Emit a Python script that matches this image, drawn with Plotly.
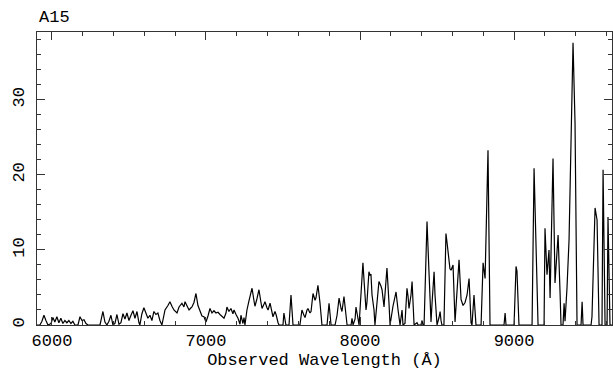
import plotly.graph_objects as go

wavelength = [
    5903, 5922, 5935, 5948, 5961, 5974, 5994, 6006, 6019, 6032, 6045, 6058, 6071, 6084, 6097, 6110,
    6123, 6136, 6149, 6169, 6182, 6195, 6208, 6221, 6234, 6312, 6331, 6344, 6357, 6370, 6383, 6396,
    6409, 6422, 6435, 6448, 6461, 6474, 6487, 6500, 6513, 6526, 6539, 6552, 6565, 6571, 6584, 6597,
    6610, 6623, 6636, 6649, 6662, 6675, 6688, 6701, 6714, 6734, 6753, 6766, 6779, 6792, 6812, 6825,
    6844, 6857, 6864, 6877, 6890, 6903, 6909, 6922, 6935, 6948, 6961, 6974, 6987, 7000, 7013, 7026,
    7039, 7052, 7065, 7078, 7091, 7104, 7117, 7130, 7136, 7149, 7162, 7175, 7182, 7195, 7208, 7221,
    7227, 7240, 7247, 7253, 7266, 7279, 7292, 7299, 7312, 7318, 7331, 7344, 7357, 7364, 7377, 7383,
    7396, 7403, 7416, 7429, 7435, 7448, 7455, 7468, 7474, 7500, 7506, 7519, 7539, 7552, 7565, 7610,
    7623, 7636, 7643, 7656, 7662, 7675, 7682, 7695, 7708, 7714, 7727, 7740, 7753, 7786, 7799, 7812,
    7838, 7851, 7864, 7877, 7883, 7896, 7909, 7916, 7942, 7948, 7955, 7968, 7974, 7987, 7994, 8006,
    8019, 8026, 8039, 8045, 8058, 8065, 8071, 8078, 8091, 8097, 8110, 8123, 8136, 8143, 8156, 8175,
    8188, 8195, 8214, 8221, 8234, 8247, 8260, 8273, 8279, 8292, 8305, 8312, 8318, 8331, 8338, 8351,
    8370, 8377, 8396, 8403, 8409, 8416, 8435, 8448, 8461, 8468, 8481, 8487, 8500, 8513, 8520, 8526,
    8532, 8545, 8558, 8565, 8578, 8584, 8591, 8604, 8617, 8630, 8643, 8656, 8669, 8682, 8695, 8708,
    8721, 8727, 8740, 8753, 8786, 8799, 8812, 8831, 8844, 8935, 8942, 8948, 9000, 9013, 9019, 9032,
    9117, 9130, 9136, 9156, 9195, 9201, 9214, 9227, 9234, 9253, 9266, 9286, 9299, 9305, 9318, 9325,
    9331, 9344, 9357, 9383, 9396, 9409, 9435, 9442, 9448, 9500, 9506, 9513, 9526, 9539, 9552, 9571,
    9578, 9591, 9604, 9610, 9623, 9636,
]

flux = [
    0, 0, 0.5, 1.3, 0.6, 0, 0.2, 1.0, 0.4, 1.1, 0.3, 0.9, 0.2, 0.6, 0.3, 0.6,
    0.2, 0.5, 0, 0, 1.1, 0.6, 0.7, 0.2, 0, 0, 1.8, 0.4, 0, 0.5, 1.3, 0,
    0.2, 1.4, 0.1, 0.3, 1.5, 0.8, 1.6, 0.6, 1.3, 1.9, 0.9, 1.8, 0.3, 0, 1.5, 2.3,
    1.6, 0.9, 1.3, 0.6, 1.8, 1.4, 1.6, 0.6, 0, 2.0, 2.6, 3.1, 2.5, 2.0, 1.6, 2.4,
    2.9, 2.4, 3.1, 2.6, 2.0, 2.3, 2.4, 3.0, 4.2, 2.6, 1.8, 1.2, 1.1, 0.4, 1.2, 2.2,
    1.6, 1.9, 1.6, 1.7, 1.4, 1.2, 0.9, 1.6, 2.4, 1.8, 2.2, 1.5, 2.0, 1.4, 0.9, 0.1,
    1.3, 0.2, 1.0, 0, 2.0, 3.2, 4.3, 4.9, 3.2, 2.5, 3.5, 4.7, 3.0, 2.2, 2.8, 3.1,
    2.3, 2.0, 2.9, 1.8, 1.1, 1.8, 1.4, 0.3, 0, 0, 1.6, 0, 0, 4.0, 0, 0,
    2.0, 1.3, 1.0, 2.0, 2.2, 1.6, 1.8, 4.2, 3.3, 3.6, 5.3, 3.0, 0, 0, 2.9, 0,
    0, 1.3, 3.6, 2.2, 1.8, 3.8, 1.5, 0, 0, 0.9, 0, 0.8, 2.4, 0.8, 0, 4.0,
    8.3, 6.0, 2.0, 3.0, 7.1, 6.6, 6.8, 4.0, 2.0, 0, 3.5, 5.8, 5.2, 4.7, 2.4, 7.6,
    3.0, 0, 2.5, 3.3, 4.4, 2.0, 0, 2.0, 0, 0.2, 4.9, 3.8, 2.2, 4.0, 5.8, 0,
    0.3, 0, 0, 0.6, 0, 0, 13.8, 7.0, 0.4, 3.0, 7.1, 4.0, 0, 1.0, 1.8, 0.6,
    0, 0, 12.2, 11.0, 8.0, 7.5, 7.3, 8.0, 0.4, 5.0, 8.7, 3.4, 2.6, 3.0, 4.0, 6.2,
    0.3, 0, 4.0, 0, 0, 8.3, 6.2, 23.3, 0, 0, 1.6, 0, 0, 7.8, 7.2, 0,
    0, 20.9, 16.2, 0, 0, 12.9, 6.7, 10.0, 3.6, 22.2, 5.6, 12.0, 4.2, 0, 0, 2.9,
    0.5, 5.0, 11.3, 37.6, 26.9, 0, 0, 3.1, 0, 0, 1.1, 6.0, 15.6, 14.0, 0, 0,
    20.7, 0, 0, 14.4, 0, 0,
]

x_ticks = [6000, 7000, 8000, 9000]
y_ticks = [0, 10, 20, 30]

FONT = "Liberation Mono"

fig = go.Figure()
fig.add_trace(go.Scatter(x=wavelength, y=flux, mode="lines",
                         line=dict(color="black", width=1.2), showlegend=False,
                         cliponaxis=True))

axis_common = dict(showline=True, linecolor="#333", linewidth=1, mirror="ticks",
                   ticks="inside", ticklen=8, tickcolor="#333", tickwidth=1,
                   showgrid=False, zeroline=False, automargin=False,
                   tickfont=dict(family=FONT, size=17, color="black"))

fig.update_xaxes(range=[5903, 9636], tickvals=x_ticks,
                 ticktext=[str(v) for v in x_ticks],
                 minor=dict(ticks="inside", ticklen=4, dtick=200, tick0=6000,
                            tickcolor="#333", showgrid=False),
                 title=dict(text="Observed Wavelength (Å)", standoff=0,
                            font=dict(family=FONT, size=17, color="black")),
                 **axis_common)
fig.update_yaxes(range=[0, 39.05], tickvals=y_ticks, tickangle=-90,
                 ticklabelstandoff=5,
                 minor=dict(ticks="inside", ticklen=4, dtick=2, tick0=0,
                            tickcolor="#333", showgrid=False),
                 **axis_common)

fig.add_annotation(text="A15", xref="paper", yref="paper", x=0, y=1,
                   xanchor="left", yanchor="bottom", showarrow=False, yshift=3,
                   font=dict(family=FONT, size=17, color="black"))

fig.update_layout(width=613, height=375,
                  margin=dict(l=37, r=1, t=32, b=50, autoexpand=False),
                  paper_bgcolor="white", plot_bgcolor="white")

fig.write_html("out.html", config={"displayModeBar": False},
               post_script="document.body.style.margin='0px';")
